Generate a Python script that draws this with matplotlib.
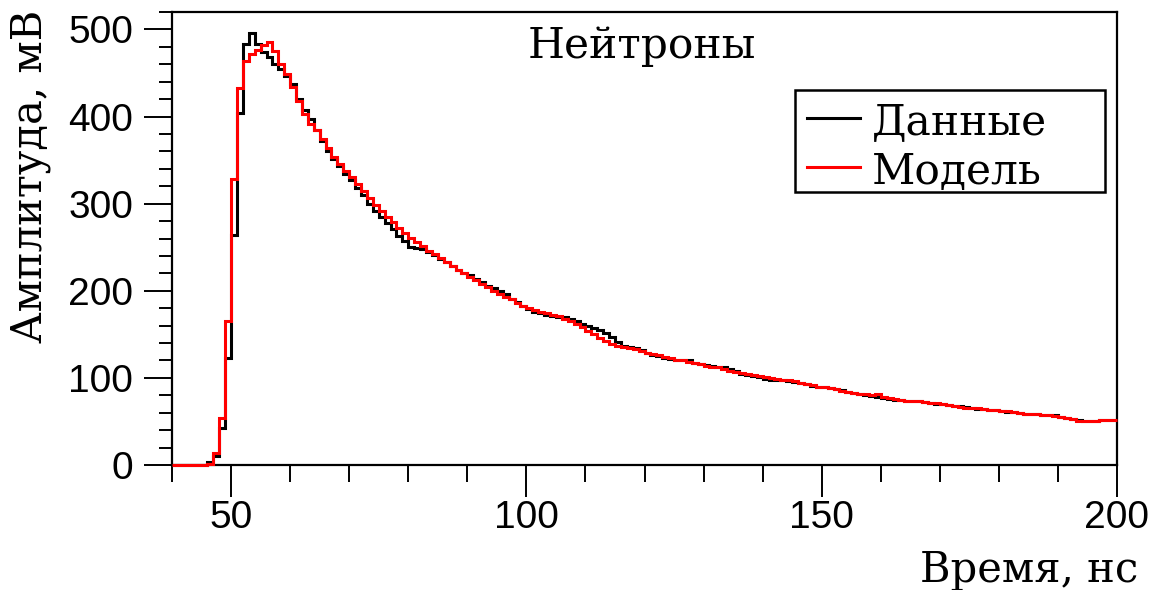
import numpy as np
import matplotlib
matplotlib.use("Agg")
import matplotlib.pyplot as plt
from matplotlib.ticker import MultipleLocator
from matplotlib.lines import Line2D
from matplotlib.patches import Rectangle

# Bin edges: 1 ns bins from 40 to 200 ns
bin_start = 40
bin_stop = 200
bin_width = 1

# Measured data (black), mV, one value per bin starting at 40 ns
data_values = [
    0, 0, 0, 0, 0, 0, 3, 10, 42, 123,                 # 40-49
    264, 404, 483, 496, 483, 474, 468, 460, 455, 447,  # 50-59
    437, 420, 407, 397, 384, 372, 361, 351, 343, 334,  # 60-69
    327, 318, 310, 300, 292, 285, 278, 271, 263, 257,  # 70-79
    250, 249, 248, 245, 241, 237, 233, 228, 224, 220,  # 80-89
    218, 214, 210, 206, 203, 200, 196, 191, 187, 183,  # 90-99
    179, 176, 174, 172, 171, 170, 170, 168, 165, 162,  # 100-109
    160, 157, 155, 151, 147, 141, 137, 135, 134, 132,  # 110-119
    128, 126, 125, 123, 122, 121, 121, 120, 117, 116,  # 120-129
    115, 114, 113, 112, 110, 108, 105, 103, 102, 101,  # 130-139
    99, 98, 98, 97, 96, 95, 94, 93, 91, 90,            # 140-149
    89, 88, 87, 86, 84, 83, 81, 80, 79, 78,            # 150-159
    77, 76, 75, 75, 74, 73, 73, 72, 71, 70,            # 160-169
    70, 69, 68, 68, 67, 65, 64, 64, 63, 63,            # 170-179
    62, 61, 61, 60, 59, 59, 58, 57, 57, 57,            # 180-189
    55, 54, 53, 52, 51, 51, 51, 52, 52, 52,            # 190-199
]

# Model (red), mV
model_values = [
    0, 0, 0, 0, 0, 0, 1, 14, 54, 165,                  # 40-49
    328, 433, 464, 472, 476, 482, 486, 475, 460, 449,  # 50-59
    434, 418, 403, 392, 384, 374, 364, 354, 346, 338,  # 60-69
    331, 322, 314, 306, 298, 291, 285, 279, 272, 266,  # 70-79
    261, 256, 251, 246, 242, 238, 233, 229, 224, 220,  # 80-89
    216, 212, 208, 204, 200, 196, 193, 190, 186, 183,  # 90-99
    180, 178, 176, 174, 172, 171, 168, 165, 162, 158,  # 100-109
    154, 150, 146, 142, 139, 137, 136, 134, 133, 131,  # 110-119
    129, 127, 126, 124, 123, 121, 120, 118, 117, 116,  # 120-129
    114, 113, 112, 110, 108, 107, 106, 104, 103, 102,  # 130-139
    101, 100, 99, 98, 97, 96, 94, 93, 92, 90,          # 140-149
    89, 88, 87, 85, 84, 83, 82, 81, 80, 81,            # 150-159
    78, 77, 76, 75, 74, 73, 73, 72, 71, 71,            # 160-169
    70, 69, 68, 67, 66, 65, 65, 64, 63, 63,            # 170-179
    62, 62, 61, 60, 59, 59, 58, 57, 57, 56,            # 180-189
    55, 54, 53, 51, 50, 50, 51, 52, 52, 52,            # 190-199
]

x_major_ticks = [50, 100, 150, 200]
y_major_ticks = [0, 100, 200, 300, 400, 500]

title_text = "Нейтроны"
x_label = "Время, нс"
y_label = "Амплитуда, мВ"
legend_labels = ["Данные", "Модель"]
series_colors = ["black", "#ff0000"]

W, H = 1157, 590
edges = np.arange(bin_start, bin_stop + bin_width, bin_width)

fig = plt.figure(figsize=(W / 100, H / 100), dpi=100)
ax = fig.add_axes([172 / W, 1 - 465 / H, (1117 - 172) / W, (465 - 12) / H])

serif = "DejaVu Serif"
sans = "Liberation Sans"

ax.stairs(data_values, edges, color=series_colors[0], lw=2.2, baseline=None,
          label=legend_labels[0], zorder=3, clip_on=False)
ax.stairs(model_values, edges, color=series_colors[1], lw=2.2, baseline=None,
          label=legend_labels[1], zorder=4, clip_on=False)

ax.set_xlim(bin_start, bin_stop)
ax.set_ylim(0, 520)

ax.set_xticks(x_major_ticks)
ax.set_yticks(y_major_ticks)
ax.xaxis.set_minor_locator(MultipleLocator(10))
ax.yaxis.set_minor_locator(MultipleLocator(20))

ax.tick_params(axis="x", which="major", direction="out", length=23, width=1.4,
               labelsize=28, pad=2, top=False)
ax.tick_params(axis="x", which="minor", direction="out", length=12, width=1.4, top=False)
ax.tick_params(axis="y", which="major", direction="out", length=20, width=1.4,
               labelsize=28, pad=8, right=False)
ax.tick_params(axis="y", which="minor", direction="out", length=9.5, width=1.4, right=False)
for lab in ax.get_xticklabels() + ax.get_yticklabels():
    lab.set_fontfamily(sans)

for sp in ax.spines.values():
    sp.set_linewidth(1.6)

fig.text(1138 / W, 1 - 570 / H, x_label, ha="right", va="center",
         fontsize=30, family=serif)
fig.text(30 / W, 1 - 10 / H, y_label, ha="center", va="top", rotation=90,
         fontsize=30, family=serif)
fig.text(642 / W, 1 - 46 / H, title_text, ha="center", va="center",
         fontsize=30.5, family=serif)

# Legend box drawn in figure pixel layout (ROOT-style fixed box)
box_x0, box_y0, box_x1, box_y1 = 795, 90, 1105, 192
fig.patches.append(Rectangle((box_x0 / W, 1 - box_y1 / H),
                             (box_x1 - box_x0) / W, (box_y1 - box_y0) / H,
                             transform=fig.transFigure, facecolor="white",
                             edgecolor="black", lw=1.8, zorder=5))
row_y = [118, 167]
for lab, col, yy in zip(legend_labels, series_colors, row_y):
    fig.lines.append(Line2D([807 / W, 860 / W], [1 - yy / H, 1 - yy / H],
                            transform=fig.transFigure, color=col, lw=2.2, zorder=6))
    fig.text(872 / W, 1 - yy / H, lab, ha="left", va="center_baseline",
             fontsize=30.5, family=serif, zorder=6)

fig.savefig("out.png", dpi=100)
